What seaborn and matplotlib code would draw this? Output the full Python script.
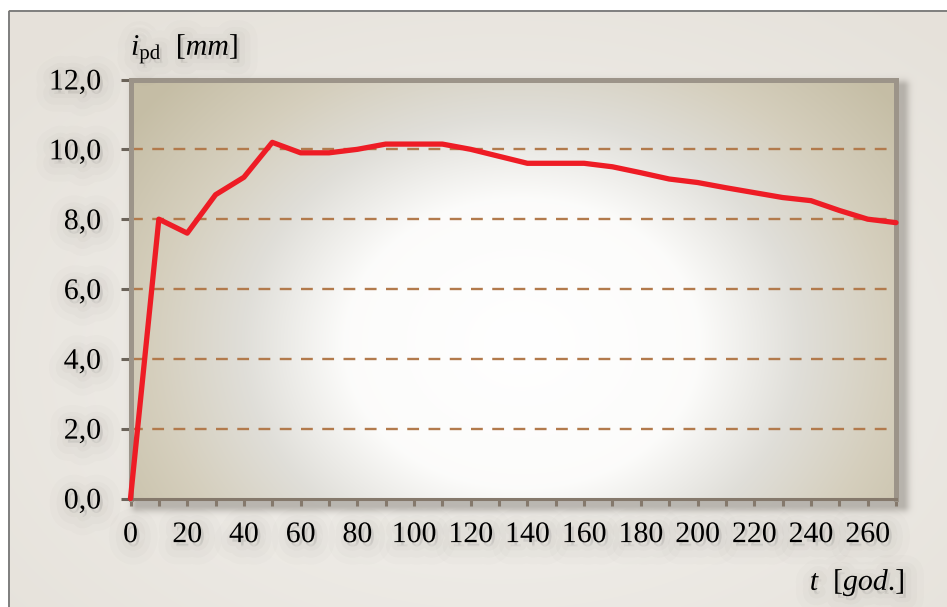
import numpy as np
import matplotlib
matplotlib.use("Agg")
import matplotlib.pyplot as plt
import matplotlib.patheffects as pe
from matplotlib.patches import Rectangle
from matplotlib.ticker import MultipleLocator, FixedLocator, FixedFormatter
import seaborn as sns

# ---- data -------------------------------------------------------------
t_years = [0, 10, 20, 30, 40, 50, 60, 70, 80, 90, 100, 110, 120, 130,
           140, 150, 160, 170, 180, 190, 200, 210, 220, 230, 240, 250, 260, 270]
i_pd = [0.0, 8.0, 7.6, 8.7, 9.2, 10.2, 9.9, 9.9, 10.0, 10.15, 10.15, 10.15, 10.0, 9.8,
        9.6, 9.6, 9.6, 9.5, 9.33, 9.15, 9.05, 8.9, 8.76, 8.62, 8.53, 8.25, 8.0, 7.9]

y_ticks = [0, 2, 4, 6, 8, 10, 12]
y_tick_labels = ["0,0", "2,0", "4,0", "6,0", "8,0", "10,0", "12,0"]
x_ticks = [0, 20, 40, 60, 80, 100, 120, 140, 160, 180, 200, 220, 240, 260]
x_tick_labels = ["0", "20", "40", "60", "80", "100", "120", "140", "160",
                 "180", "200", "220", "240", "260"]
grid_levels = [2, 4, 6, 8, 10]

# ---- style ------------------------------------------------------------
sns.set_style("white")
plt.rcParams["font.family"] = ["Liberation Serif", "DejaVu Serif"]
plt.rcParams["mathtext.fontset"] = "custom"
plt.rcParams["mathtext.rm"] = "Liberation Serif"
plt.rcParams["mathtext.it"] = "Liberation Serif:italic"

W, H = 947, 607
fig = plt.figure(figsize=(W / 100, H / 100), dpi=100)
fig.patch.set_facecolor("white")

# plot-area frame in pixels (y measured from top)
L, T, R, B = 130.5, 79.5, 896.0, 498.5

# ---- page background with soft shadow under the plot area -------------
bg = fig.add_axes([0, 0, 1, 1], zorder=-10)
yy, xx = np.mgrid[0:H, 0:W] + 0.5
r = np.sqrt(((xx - 500) / 640) ** 2 + ((yy - 360) / 430) ** 2)
edge = np.array([0.902, 0.886, 0.858])
centre = np.array([0.958, 0.952, 0.940])
w = np.clip(r, 0, 1)[..., None]
img = centre * (1 - w) + edge * w
off = 7
dx = np.maximum(np.maximum((L + off) - xx, xx - (R + off)), 0)
dy = np.maximum(np.maximum((T + off) - yy, yy - (B + off)), 0)
d = np.hypot(dx, dy)
sh = (0.40 * np.exp(-(d / 6.5) ** 2))[..., None]
img = img * (1 - sh) + np.array([0.42, 0.40, 0.37]) * sh
img[:10, :] = 1.0
img[:, :8] = 1.0
bg.imshow(img, extent=[0, W, H, 0], aspect="auto", interpolation="bilinear")
bg.set_xlim(0, W)
bg.set_ylim(H, 0)
bg.add_patch(Rectangle((8.5, 10.5), W + 20, H + 20, facecolor="none",
                       edgecolor="#777777", linewidth=1.3))
bg.axis("off")

# ---- main axes --------------------------------------------------------
ax = fig.add_axes([L / W, 1 - B / H, (R - L) / W, (B - T) / H])

ny, nx = 420, 766
v, u = np.mgrid[0:ny, 0:nx]
u = u / nx
v = v / ny
rr = np.sqrt(((u - 0.51) / 0.55) ** 2 + ((v - 0.63) / 0.82) ** 2)
stops = [0.0, 0.42, 0.66, 0.88, 1.12]
cols = np.array([[1.0, 1.0, 1.0],
                 [0.988, 0.987, 0.982],
                 [0.878, 0.872, 0.850],
                 [0.835, 0.810, 0.740],
                 [0.775, 0.745, 0.650]])
grad = np.stack([np.interp(rr, stops, cols[:, k]) for k in range(3)], axis=-1)
ax.imshow(grad, extent=[0, 270, 0, 12], origin="upper", aspect="auto",
          interpolation="bilinear", zorder=0)

for lv in grid_levels:
    ax.axhline(lv, color="#b27a4c", linewidth=1.7, dashes=(5.0, 4.0), zorder=2)

sns.lineplot(x=t_years, y=i_pd, ax=ax, color="#ee1c25", linewidth=3.8,
             estimator=None, zorder=4, clip_on=False,
             solid_joinstyle="round", solid_capstyle="round")

ax.set_xlim(0, 270)
ax.set_ylim(0, 12)
ax.set_xlabel("")
ax.set_ylabel("")

for side in ("top", "left", "right"):
    ax.spines[side].set_color("#9c9489")
    ax.spines[side].set_linewidth(3.6)
ax.spines["bottom"].set_color("#85796c")
ax.spines["bottom"].set_linewidth(2.2)

ax.yaxis.set_major_locator(FixedLocator(y_ticks))
ax.yaxis.set_major_formatter(FixedFormatter(y_tick_labels))
ax.xaxis.set_major_locator(FixedLocator(x_ticks))
ax.xaxis.set_major_formatter(FixedFormatter(x_tick_labels))
ax.xaxis.set_minor_locator(MultipleLocator(10))

ax.tick_params(axis="y", which="both", direction="out", left=True, length=7.2,
               width=2.2, color="#6b6359", pad=14, labelsize=21.5, labelcolor="black")
ax.tick_params(axis="x", which="both", direction="out", bottom=True, length=5,
               width=2.2, color="#85796c", pad=12, labelsize=21.5, labelcolor="black")

halo = [pe.Stroke(linewidth=26, foreground=(0.45, 0.43, 0.40), alpha=0.022, offset=(2, -3)),
        pe.Stroke(linewidth=16, foreground=(0.45, 0.43, 0.40), alpha=0.03, offset=(2, -3)),
        pe.Stroke(linewidth=8, foreground=(0.45, 0.43, 0.40), alpha=0.035, offset=(2, -2)),
        pe.Normal()]
for lab in ax.get_xticklabels() + ax.get_yticklabels():
    lab.set_path_effects(halo)

fig.text(131 / W, 1 - 55 / H, r"$i_{\mathrm{pd}}$  [$mm$]", fontsize=21.5,
         ha="left", va="baseline", color="black", path_effects=halo)
fig.text(905 / W, 1 - 590 / H, r"$t$  [$god$.]", fontsize=21.5,
         ha="right", va="baseline", color="black", path_effects=halo)

fig.savefig("out.png", dpi=100, facecolor=fig.get_facecolor())
